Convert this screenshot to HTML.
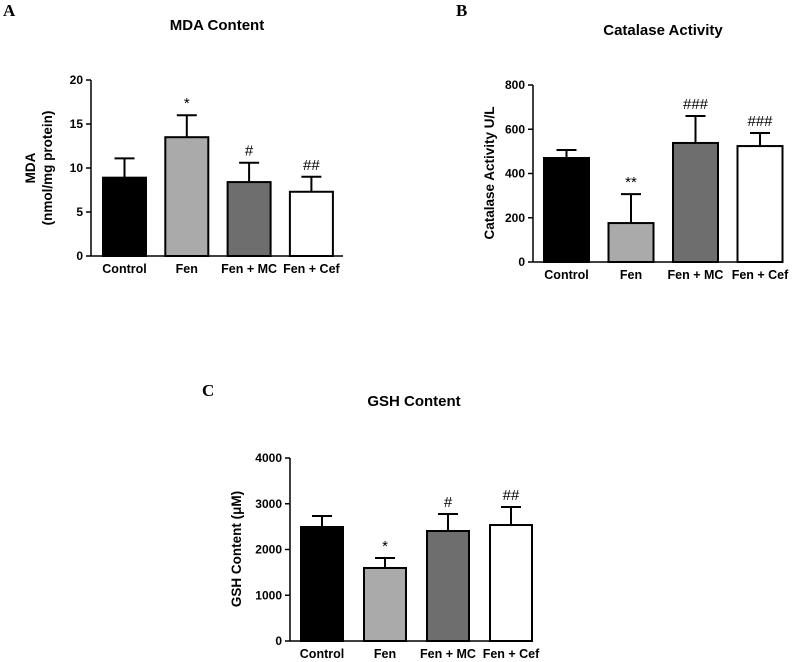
<!DOCTYPE html>
<html><head><meta charset="utf-8"><style>
html,body{margin:0;padding:0;background:#fff;}
svg{display:block;font-family:"Liberation Sans",Arial,sans-serif;}
.t{font-weight:bold;font-size:15px;}
.tk{font-weight:bold;font-size:12px;}
.xl{font-weight:bold;font-size:12.5px;}
.yl{font-weight:bold;font-size:13.5px;}
.pl{font-family:"Liberation Serif",serif;font-weight:bold;font-size:17px;}
.sig{font-size:15px;}
</style></head><body>
<svg id="c" width="794" height="662" viewBox="0 0 794 662">
<text class="pl" x="3" y="16">A</text>
<text class="pl" x="456" y="16">B</text>
<text class="pl" x="202" y="396">C</text>
</svg>
<script>
const categories = ["Control","Fen","Fen + MC","Fen + Cef"];
const fills = ["#000","#aaa","#6e6e6e","#fff"];
const mdaValues = [8.9, 13.5, 8.4, 7.3];
const mdaErrors = [2.2, 2.5, 2.2, 1.7];
const mdaSig = ["","*","#","##"];
const mdaTicks = [0,5,10,15,20];
const catValues = [470, 176, 538, 524];
const catErrors = [36, 131, 122, 59];
const catSig = ["","**","###","###"];
const catTicks = [0,200,400,600,800];
const gshValues = [2492, 1596, 2404, 2535];
const gshErrors = [240, 218, 372, 394];
const gshSig = ["","*","#","##"];
const gshTicks = [0,1000,2000,3000,4000];

const NS="http://www.w3.org/2000/svg";
const svg=document.getElementById('c');
function mk(tag,attrs,parent){const e=document.createElementNS(NS,tag);for(const k in attrs)e.setAttribute(k,attrs[k]);(parent||svg).appendChild(e);return e;}

function chart(o){
  const g=mk('g',{});
  
  
  const ymax=o.ticks[o.ticks.length-1];
  const y=v=>o.y0-(v/ymax)*(o.y0-o.y1);
  const x=i=>o.bx0+i*o.step;
  const title=mk('text',{x:o.tx,y:o.ty,'text-anchor':'middle',class:'t'},g);
  title.textContent=o.title;
  
  
  o.ticks.forEach(t=>{
    mk('line',{x1:o.ax-5,x2:o.ax,y1:y(t),y2:y(t),stroke:'#000','stroke-width':1.5},g);
    const tl=mk('text',{x:o.ax-8,y:y(t)+4,'text-anchor':'end',class:'tk'},g);
    tl.textContent=t;
    
    
  });
  categories.forEach((c,i)=>{
    const v=o.values[i],e=o.errors[i];
    const cx=x(i)+o.bw/2;
    mk('line',{x1:cx,x2:cx,y1:y(v),y2:y(v+e),stroke:'#000','stroke-width':2},g);
    mk('line',{x1:cx-10,x2:cx+10,y1:y(v+e),y2:y(v+e),stroke:'#000','stroke-width':2},g);
    const r=mk('rect',{x:x(i),y:y(v),width:o.bw,height:y(0)-y(v),fill:fills[i],stroke:'#000','stroke-width':2},g);
    
    
    if(o.sig[i]){
      const s=mk('text',{x:cx,y:y(v+e)-7,'text-anchor':'middle',class:'sig'},g);
      s.textContent=o.sig[i];
      
      
    }
    const xl=mk('text',{x:cx,y:o.y0+17,'text-anchor':'middle',class:'xl'},g);
    xl.textContent=c;
    
    
  });
  mk('line',{x1:o.ax,x2:o.ax,y1:o.y1,y2:o.y0,stroke:'#000','stroke-width':1.5},g);
  mk('line',{x1:o.ax,x2:o.axEnd,y1:o.y0,y2:o.y0,stroke:'#000','stroke-width':1.5},g);
  o.ylab.forEach((l,k)=>{
    const t=mk('text',{x:0,y:0,'text-anchor':'middle',class:'yl',transform:`translate(${l[1]},${o.ycy}) rotate(-90)`},g);
    t.textContent=l[0];
    
    
  });
}
chart({name:'mda-chart',title:'MDA Content',tx:217,ty:30,ax:91,axEnd:343,y0:256,y1:80,bx0:103,step:62.3,bw:43,
  values:mdaValues,errors:mdaErrors,sig:mdaSig,ticks:mdaTicks,ylab:[['MDA',35],['(nmol/mg protein)',52]],ycy:168});
chart({name:'catalase-chart',title:'Catalase Activity',tx:663,ty:35,ax:533,axEnd:783,y0:262,y1:85,bx0:544,step:64.5,bw:45,
  values:catValues,errors:catErrors,sig:catSig,ticks:catTicks,ylab:[['Catalase Activity U/L',494]],ycy:173});
chart({name:'gsh-chart',title:'GSH Content',tx:414,ty:406,ax:290,axEnd:531,y0:641,y1:458,bx0:301,step:63,bw:42,
  values:gshValues,errors:gshErrors,sig:gshSig,ticks:gshTicks,ylab:[['GSH Content (\u03bcM)',241]],ycy:549});
</script>
</body></html>
